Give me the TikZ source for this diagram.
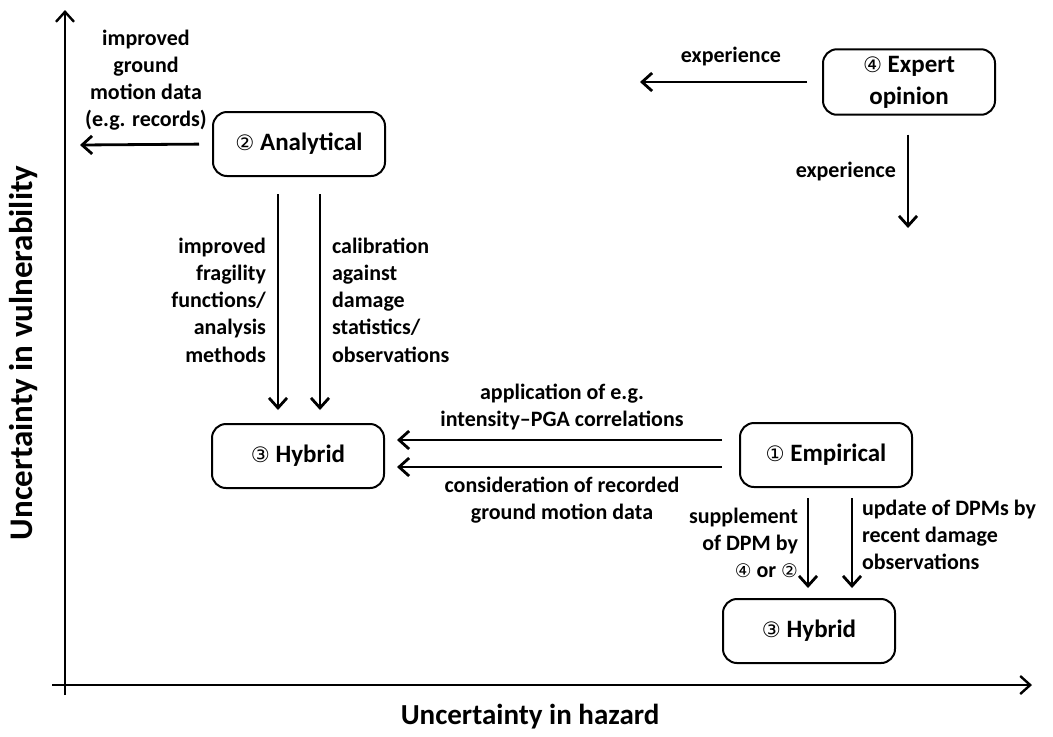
\documentclass[tikz,border=0pt]{standalone}
\usepackage{fontspec}
\setmainfont{Carlito}
\newfontfamily\circfont{DejaVu Sans}[Scale=0.85]
\usetikzlibrary{arrows.meta}
\newcommand{\cn}[1]{{\circfont\mdseries\ifcase#1\or ①\or ②\or ③\or ④\fi}}
\begin{document}
\begin{tikzpicture}[x=0.5pt,y=-0.5pt]
\tikzstyle{every node} = [font=\bfseries\fontsize{11}{13.6}\selectfont];
\tikzstyle{method} = [draw,line width=1pt,rounded corners=7pt,minimum width=86pt,minimum height=32pt,align=center,font=\bfseries\fontsize{12.5}{16}\selectfont];
\tikzstyle{arr} = [line width=1.4pt,-{Straight Barb[length=5pt,width=9pt,line width=1.4pt]}];
\tikzstyle{axis} = [line width=1.2pt,-{Straight Barb[length=5pt,width=9pt,line width=1.2pt]}];
\useasboundingbox (0,0) rectangle (1053,736);
% axes
\coordinate (ybot) at (65,695);
\coordinate (ytop) at (65,10);
\coordinate (xleft) at (52,685);
\coordinate (xright) at (1032,685);
\draw[axis] (ybot) -- (ytop);
\draw[axis] (xleft) -- (xright);
\node at (530,717) [font=\bfseries\fontsize{14.5}{17}\selectfont] (xlab) {Uncertainty in hazard};
\node at (24,353) [rotate=90,font=\bfseries\fontsize{16.5}{19}\selectfont] (ylab) {Uncertainty in vulnerability};
% methods
\node[method] at (299,144) (ana) {\cn2 Analytical};
\node[method] at (909,82) (exp) {\cn4 Expert\\opinion};
\node[method] at (298,456) (hyb1) {\cn3 Hybrid};
\node[method] at (826,455) (emp) {\cn1 Empirical};
\node[method] at (809,631) (hyb2) {\cn3 Hybrid};
% free ends
\coordinate (anaend) at (80,145);
\coordinate (expleft) at (640,82);
\coordinate (expdown) at (908,228);
% connectors
\draw[arr,shorten <=6.5pt] (ana.west) -- (anaend)
  node[midway,above=3pt,align=center] {improved\\ground\\motion data\\(e.g. records)};
\draw[arr,shorten <=7.5pt] (exp.west) -- (expleft) node[midway,above=4pt] {experience};
\draw[arr,shorten <=9.5pt] ([xshift=-0.5pt]exp.south) -- (expdown) node[midway,left=2pt] {experience};
\draw[arr,shorten <=8.5pt,shorten >=6.5pt] ([xshift=-10.5pt]ana.south) -- ([xshift=-10pt]hyb1.north)
  node[midway,left=2pt,align=right] {improved\\fragility\\functions/\\analysis\\methods};
\draw[arr,shorten <=8.5pt,shorten >=6.5pt] ([xshift=10.5pt]ana.south) -- ([xshift=11pt]hyb1.north)
  node[midway,right=2pt,align=left] {calibration\\against\\damage\\statistics/\\observations};
\draw[arr,shorten <=8.5pt,shorten >=6pt] ([yshift=7.5pt]emp.west) -- ([yshift=8pt]hyb1.east)
  node[midway,above=1pt,align=center] {application of e.g.\\intensity--PGA correlations};
\draw[arr,shorten <=8.5pt,shorten >=6pt] ([yshift=-6pt]emp.west) -- ([yshift=-5.5pt]hyb1.east)
  node[midway,below=1pt,align=center] {consideration of recorded\\ground motion data};
\draw[arr,shorten <=5pt,shorten >=5pt] ([xshift=-9pt]emp.south) -- ([xshift=-0.5pt]hyb2.north)
  node[midway,left=1pt,align=right] {supplement\\of DPM by\\\cn4 or \cn2};
\draw[arr,shorten <=5pt,shorten >=5pt] ([xshift=13pt]emp.south) -- ([xshift=21.5pt]hyb2.north)
  node[midway,right=1pt,yshift=4pt,align=left] {update of DPMs by\\recent damage\\observations};
\end{tikzpicture}
\end{document}
